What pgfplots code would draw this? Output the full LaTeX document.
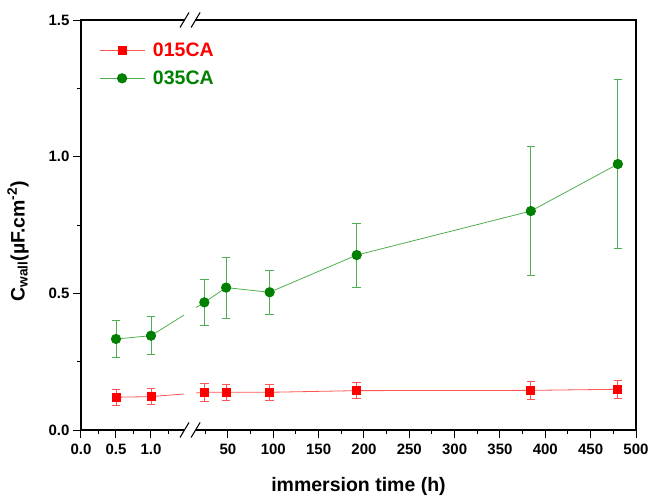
\documentclass[border=0pt]{standalone}
\usepackage{fontspec}
\setmainfont{Liberation Sans}
\usepackage{pgfplots}
\pgfplotsset{compat=1.18}
\usetikzlibrary{calc}

\definecolor{mred}{RGB}{255,0,0}
\definecolor{lred}{RGB}{255,85,85}
\definecolor{mgreen}{RGB}{0,128,0}
\definecolor{lgreen}{RGB}{80,175,80}

\pgfplotstableread{
x y e
0.5 0.120 0.029
1 0.122 0.029
24 0.138 0.032
48 0.138 0.030
96 0.138 0.028
192 0.144 0.030
384 0.145 0.032
480 0.149 0.033
}\redtab

\pgfplotstableread{
x y e
0.5 0.333 0.069
1 0.345 0.069
24 0.467 0.084
48 0.521 0.112
96 0.504 0.081
192 0.640 0.117
384 0.801 0.237
480 0.973 0.308
}\greentab

\begin{document}
\begin{tikzpicture}
\begin{axis}[
  name=ax,
  scale only axis,
  width=555pt, height=410pt,
  % broken x axis: 0..1.5 h on the left, 10..500 h on the right
  x coord trafo/.code={%
    \begingroup
    \pgfkeys{/pgf/fpu=true,/pgf/fpu/output format=fixed}%
    \pgfmathparse{((#1)<5)*70*(#1)+((#1)>=5)*(101.6+0.907*(#1))}%
    \xdef\brktmp{\pgfmathresult}%
    \endgroup
    \let\pgfmathresult\brktmp},
  xmin=0, xmax=500,
  ymin=0, ymax=1.5,
  xtick={0,0.5,1,50,100,150,200,250,300,350,400,450,500},
  xticklabels={0.0,0.5,1.0,50,100,150,200,250,300,350,400,450,500},
  minor xtick={0.25,0.75,1.25,25,75,125,175,225,275,325,375,425,475},
  ytick={0,0.5,1,1.5},
  minor ytick={0.25,0.75,1.25},
  yticklabel style={/pgf/number format/.cd, fixed, fixed zerofill, precision=1, assume math mode=true},
  tick align=outside,
  xtick pos=bottom, ytick pos=left,
  major tick length=8pt, minor tick length=4pt,
  every tick/.style={black, line width=1pt},
  axis line style={line width=1.2pt},
  tick label style={font=\fontsize{15}{18}\selectfont\bfseries},
  xticklabel style={yshift=-2pt},
  label style={font=\fontsize{19.5}{23}\selectfont\bfseries},
  xlabel={immersion time (h)},
  xlabel style={at={(axis description cs:0.5,-0.137)}, anchor=center},
  ylabel={C\textsubscript{wall}(µF.cm\textsuperscript{-2})},
  ylabel style={at={(axis description cs:-0.1135,0.46)}, anchor=center},
  legend style={draw=none, fill=none, at={(axis description cs:0.027,0.955)}, anchor=north west,
    font=\fontsize{19.5}{23}\selectfont\bfseries, row sep=9pt},
  legend cell align=left,
  legend image code/.code={\draw[mark repeat=2,mark phase=2] plot coordinates {(0pt,0pt)(22.5pt,0pt)(45pt,0pt)};},
]
\addplot[lred, line width=0.8pt, mark=square*, mark size=4pt,
  mark options={fill=mred, draw=mred},
  error bars/.cd, y dir=both, y explicit,
  error bar style={lred, line width=0.8pt},
  error mark options={rotate=90, mark size=4.3pt, lred, line width=0.8pt}]
  table[x=x, y=y, y error=e] {\redtab};
\addlegendentry{\hspace{6pt}\textcolor{mred}{015CA}}
\addplot[lgreen, line width=0.8pt, mark=*, mark size=4.7pt,
  mark options={fill=mgreen, draw=mgreen},
  error bars/.cd, y dir=both, y explicit,
  error bar style={lgreen, line width=0.8pt},
  error mark options={rotate=90, mark size=4.3pt, lgreen, line width=0.8pt}]
  table[x=x, y=y, y error=e] {\greentab};
\addlegendentry{\hspace{6pt}\textcolor{mgreen}{035CA}}
\end{axis}
% axis break: gaps in the bottom and top axis lines and in the curves
\fill[white] ($(ax.south west)!0.186!(ax.south east)+(0,-2pt)$) rectangle ($(ax.south west)!0.207!(ax.south east)+(0,200pt)$);
\fill[white] ($(ax.north west)!0.1875!(ax.north east)+(0,-2pt)$) rectangle ($(ax.north west)!0.2055!(ax.north east)+(0,2pt)$);
\foreach \c in {0.1865,0.2065}{
  \draw[line width=1.1pt] ($(ax.south west)!\c!(ax.south east)+(-4.5pt,-7.5pt)$) -- ++(9pt,15pt);
  \draw[line width=1.1pt] ($(ax.north west)!\c!(ax.north east)+(-4.5pt,-7.5pt)$) -- ++(9pt,15pt);
}
\pgfresetboundingbox
\useasboundingbox ($(ax.south west)+(-81pt,-66pt)$) rectangle ($(ax.north east)+(15pt,20pt)$);
\end{tikzpicture}
\end{document}
